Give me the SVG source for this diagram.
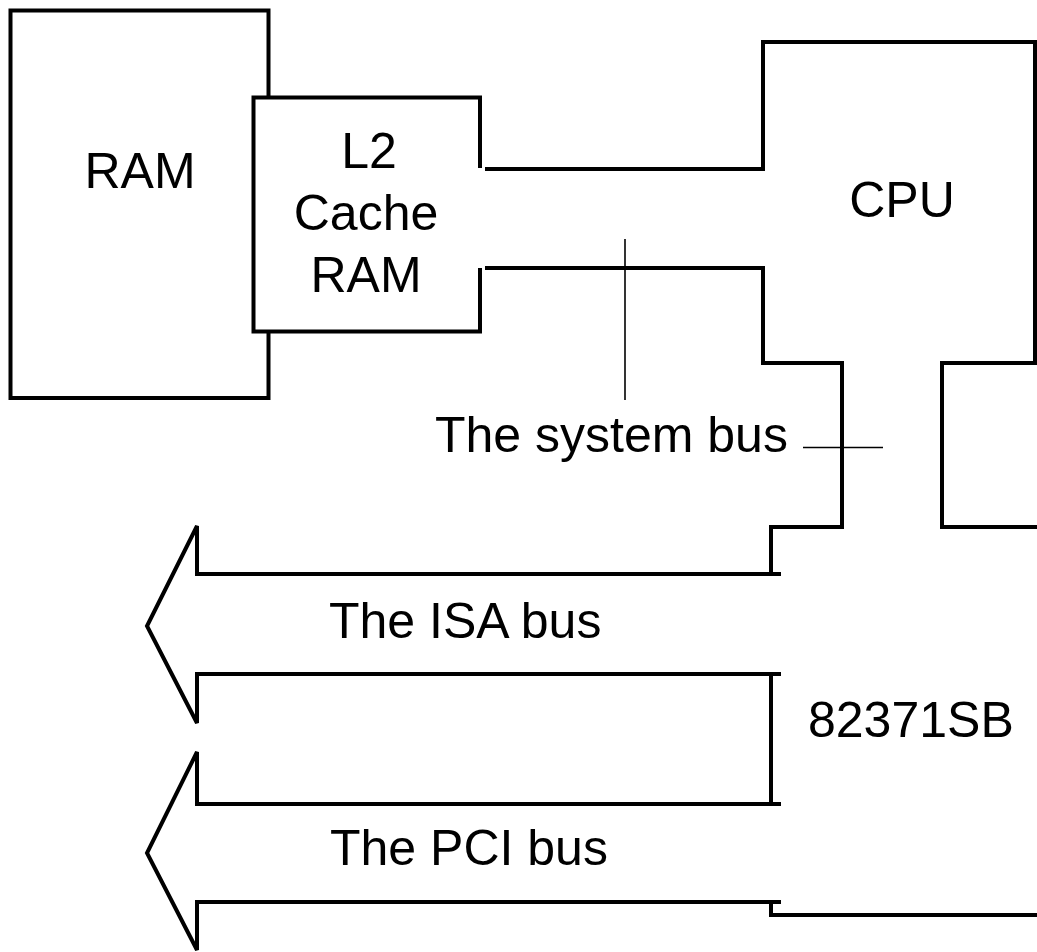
<svg xmlns="http://www.w3.org/2000/svg" width="1037" height="952" viewBox="0 0 1037 952">
<style>
.box{fill:#fff;stroke:#000;stroke-width:4}
.ln{fill:none;stroke:#000;stroke-width:4;stroke-linejoin:miter;stroke-linecap:butt}
.thin{fill:none;stroke:#000;stroke-width:1.6}
.t{font-family:"Liberation Sans",Arial,sans-serif;font-size:50px;fill:#000}
</style>
<rect width="1037" height="952" fill="#fff"/>
<g id="node-ram">
<rect class="box" x="10.5" y="10.5" width="258" height="387.5"/>
<text class="t" x="140" y="188" text-anchor="middle">RAM</text>
</g>
<g id="node-l2cache">
<path d="M480,168 V97.5 H253.5 V331.5 H480 V268" class="box"/>
<text class="t" x="369" y="168" text-anchor="middle">L2</text>
<text class="t" x="366" y="230" text-anchor="middle">Cache</text>
<text class="t" x="366" y="292" text-anchor="middle">RAM</text>
</g>
<g id="node-cpu">
<path class="ln" d="M485,169 H763 V42 H1035 V363 H942 V527 H1037"/>
<text class="t" x="902" y="217" text-anchor="middle">CPU</text>
</g>
<g id="node-82371sb">
<path class="ln" d="M771,674 V804"/>
<text class="t" x="808" y="737">82371SB</text>
</g>
<g id="connectors">
<path class="ln" d="M485,268 H763 V363 H842 V527 H771 V574"/>
<path class="ln" d="M781,574 H197 V526 L147,626 L197,723 V674 H781"/>
<path class="ln" d="M781,804 H197 V752 L147,853 L197,950 V902 H781"/>
<path class="ln" d="M771,902 V915 H1037"/>
<path class="thin" d="M625,239 V400"/>
<path class="thin" d="M803,447.5 H883"/>
</g>
<g id="labels">
<text class="t" x="435" y="452">The system bus</text>
<text class="t" x="329" y="638">The ISA bus</text>
<text class="t" x="330" y="865">The PCI bus</text>
</g>
</svg>
